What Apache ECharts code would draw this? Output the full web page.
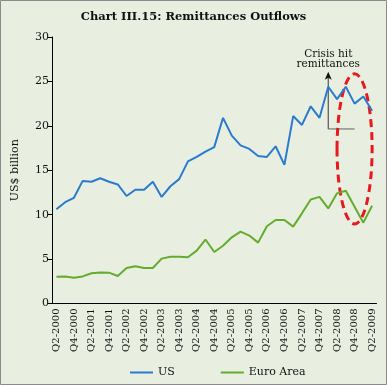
<!DOCTYPE html>
<html><head><meta charset="utf-8">
<script src="https://cdn.jsdelivr.net/npm/echarts@6/dist/echarts.min.js"></script>
<style>html,body{margin:0;padding:0;background:#e8efe0}#c{width:387px;height:385px}</style>
</head><body><div id="c"></div>
<script>
const categories = ["Q2-2000","Q3-2000","Q4-2000","Q1-2001","Q2-2001","Q3-2001","Q4-2001","Q1-2002","Q2-2002","Q3-2002","Q4-2002","Q1-2003","Q2-2003","Q3-2003","Q4-2003","Q1-2004","Q2-2004","Q3-2004","Q4-2004","Q1-2005","Q2-2005","Q3-2005","Q4-2005","Q1-2006","Q2-2006","Q3-2006","Q4-2006","Q1-2007","Q2-2007","Q3-2007","Q4-2007","Q1-2008","Q2-2008","Q3-2008","Q4-2008","Q1-2009","Q2-2009"];
const usValues = [10.6,11.4,11.9,13.8,13.7,14.1,13.7,13.4,12.1,12.8,12.8,13.7,12.0,13.2,14.0,16.0,16.5,17.1,17.6,20.9,18.9,17.8,17.4,16.6,16.5,17.7,15.6,21.1,20.1,22.2,20.9,24.4,23.0,24.4,22.5,23.3,21.7];
const euroValues = [3.0,3.05,2.9,3.05,3.4,3.5,3.47,3.1,4.0,4.2,4.0,4.0,5.05,5.27,5.27,5.2,5.95,7.2,5.8,6.5,7.45,8.1,7.65,6.85,8.7,9.4,9.4,8.65,10.15,11.7,12.0,10.7,12.4,12.7,10.9,9.1,11.0];
const yTicks = {min:0, max:30, interval:5};
const seriesNames = ["US","Euro Area"];
const annotationText = "Crisis hit\nremittances";

const serif = "DejaVu Serif";
const chart = echarts.init(document.getElementById('c'), null, {renderer:'canvas'});
const option = {
  backgroundColor: '#e8efe0',
  animation: false,
  title: {text: 'Chart III.15: Remittances Outflows', left: 'center', top: 6,
    textStyle: {fontFamily: serif, fontWeight: 'bold', fontSize: 11.5, color: '#111'}},
  grid: {left: 52, right: 10.5, top: 37, bottom: 81.5},
  legend: {bottom: 2, left: 125, itemGap: 46, itemWidth: 23, itemHeight: 2, icon: 'rect',
    textStyle: {fontFamily: serif, fontSize: 11, color: '#111'},
    data: seriesNames},
  xAxis: {type: 'category', data: categories, boundaryGap: true,
    axisLine: {lineStyle: {color: '#000', width: 1}},
    axisTick: {interval: 1, length: 4, lineStyle: {color: '#000'}},
    axisLabel: {interval: 1, rotate: 90, fontFamily: serif, fontSize: 10, color: '#111', margin: 5}},
  yAxis: {type: 'value', min: yTicks.min, max: yTicks.max, interval: yTicks.interval,
    name: 'US$ billion', nameLocation: 'middle', nameGap: 31, nameRotate: 90,
    nameTextStyle: {fontFamily: serif, fontSize: 11, color: '#111'},
    splitLine: {show: false},
    axisLine: {show: true, lineStyle: {color: '#000', width: 1}},
    axisTick: {show: true, length: 4, lineStyle: {color: '#000'}},
    axisLabel: {fontFamily: serif, fontSize: 11, color: '#111', margin: 3}},
  series: [
    {name: seriesNames[0], type: 'line', data: usValues, symbol: 'none',
      lineStyle: {color: '#2a7bd0', width: 2}, itemStyle: {color: '#2a7bd0'}},
    {name: seriesNames[1], type: 'line', data: euroValues, symbol: 'none',
      lineStyle: {color: '#62ad2e', width: 2}, itemStyle: {color: '#62ad2e'}}
  ]
};
chart.setOption(option);

// annotations positioned through the chart's own scales
const px = (i, v) => chart.convertToPixel({gridIndex: 0}, [i, v]);
const arrowBase = px(31, 19.65);
const arrowTop = px(31, 26.1);
const hEnd = px(34.3, 19.65);
const ellC = px(34.05, 17.4);
const ellR = px(36.2, 25.85);
const rx = ellR[0] - ellC[0];
const ry = ellC[1] - ellR[1];
chart.setOption({graphic: [
  {type: 'rect', shape: {x: 0.5, y: 0.5, width: 386, height: 384}, style: {fill: 'none', stroke: '#8a8a8a', lineWidth: 1}, silent: true},
  {type: 'line', shape: {x1: arrowBase[0], y1: arrowBase[1], x2: hEnd[0], y2: hEnd[1]}, style: {stroke: '#777', lineWidth: 1.2}},
  {type: 'line', shape: {x1: arrowBase[0], y1: arrowBase[1], x2: arrowTop[0], y2: arrowTop[1] + 6}, style: {stroke: '#555', lineWidth: 1.2}},
  {type: 'polygon', shape: {points: [[arrowTop[0], arrowTop[1]], [arrowTop[0] - 3.5, arrowTop[1] + 8], [arrowTop[0], arrowTop[1] + 6], [arrowTop[0] + 3.5, arrowTop[1] + 8]]}, style: {fill: '#111'}},
  {type: 'text', x: arrowTop[0], y: arrowTop[1] - 3, style: {text: annotationText, fontFamily: serif, fontSize: 10.5, lineHeight: 9.5, fill: '#111', align: 'center', verticalAlign: 'bottom'}},
  {type: 'ellipse', shape: {cx: ellC[0], cy: ellC[1], rx: rx, ry: ry}, style: {fill: 'none', stroke: '#e8191e', lineWidth: 3, lineDash: [8, 5]}}
]});
</script>
</body></html>
